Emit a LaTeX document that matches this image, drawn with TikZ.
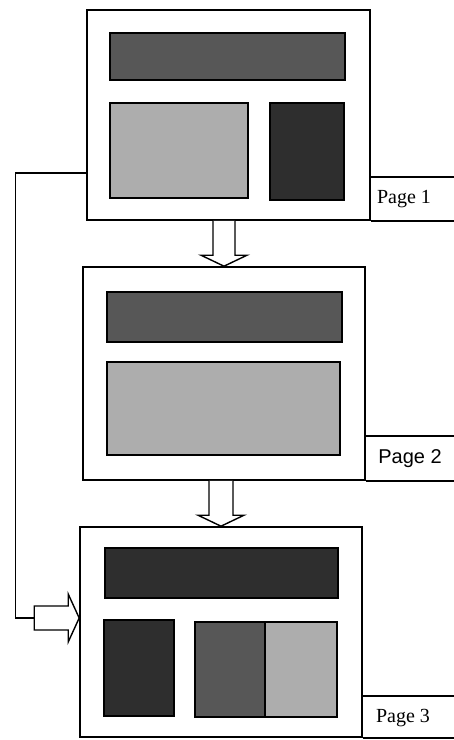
\documentclass[tikz,border=0pt]{standalone}
\usepackage{fontspec}
\setmainfont{Liberation Serif}
\newfontfamily\labsans{Liberation Sans}
\usetikzlibrary{calc}

\tikzset{
  frame/.style={draw, line width=1.6pt, fill=white, inner sep=0pt},
  blk/.style={draw, line width=1.1pt},
  dk/.style={blk, fill=black!82},
  md/.style={blk, fill=black!66},
  lt/.style={blk, fill=black!32},
  hollow/.style={draw, line width=1.4pt, fill=white, line join=miter},
  rule/.style={line width=1.5pt},
  pglabel/.style={font=\fontsize{20}{22}\selectfont, inner sep=0pt}
}

\begin{document}
\begin{tikzpicture}[x=1pt,y=-1pt]
\useasboundingbox (0,0) rectangle (454,740);

% pages
\node[frame, minimum width=283pt, minimum height=210pt] (p1) at (228.5,115) {};
\node[frame, minimum width=282pt, minimum height=213pt] (p2) at (224,373.5) {};
\node[frame, minimum width=282pt, minimum height=210pt] (p3) at (221,632) {};

% page 1 blocks
\draw[md] (110,33) rectangle (345,80);
\draw[lt] (110,103) rectangle (248,198);
\draw[dk] (270,103) rectangle (344,200);

% page 2 blocks
\draw[md] (107,292) rectangle (342,342);
\draw[lt] (107,362) rectangle (340,455);

% page 3 blocks
\draw[dk] (105,548) rectangle (338,598);
\draw[dk] (104,620) rectangle (174,716);
\draw[md] (195,622) rectangle (265,717);
\draw[lt] (265,622) rectangle (337,717);

% labels
\node[pglabel] (l1) at (404,199) {Page 1};
\draw[rule] ($(p1.south east)+(0,-44)$) -- ++(86,0);
\draw[rule] (p1.south east) -- ++(86,0);
\node[pglabel, font=\labsans\fontsize{20}{22}\selectfont] (l2) at (410,459) {Page 2};
\draw[rule] ($(p2.south east)+(0,-45)$) -- ++(92,0);
\draw[rule] (p2.south east) -- ++(92,0);
\node[pglabel] (l3) at (403,718) {Page 3};
\draw[rule] ($(p3.south east)+(0,-42)$) -- ++(92,0);
\draw[rule] (p3.south east) -- ++(92,0);

% flow arrows
\draw[hollow] ($(p2.north |- p1.south)+(-11,0)$) -- ($(p2.north)+(-11,-11)$)
  -- ($(p2.north)+(-23,-11)$) -- (p2.north) -- ($(p2.north)+(23,-11)$)
  -- ($(p2.north)+(11,-11)$) -- ($(p2.north |- p1.south)+(11,0)$);
\draw[hollow] ($(p3.north |- p2.south)+(-12,0)$) -- ($(p3.north)+(-12,-11)$)
  -- ($(p3.north)+(-23,-11)$) -- (p3.north) -- ($(p3.north)+(23,-11)$)
  -- ($(p3.north)+(12,-11)$) -- ($(p3.north |- p2.south)+(12,0)$);

% jump from page 1 to page 3
\coordinate (tap) at ($(p1.south west)+(0,-48)$);
\coordinate (in3) at ($(p3.west)+(0,-14)$);
\draw[line width=1.4pt] (tap) -- ++(-71,0) |- ($(in3)+(-45,0)$);
\draw[hollow] ($(in3)+(-45,-12)$) -- ($(in3)+(-11,-12)$) -- ($(in3)+(-11,-24)$)
  -- (in3) -- ($(in3)+(-11,24)$) -- ($(in3)+(-11,12)$) -- ($(in3)+(-45,12)$) -- cycle;
\end{tikzpicture}
\end{document}
